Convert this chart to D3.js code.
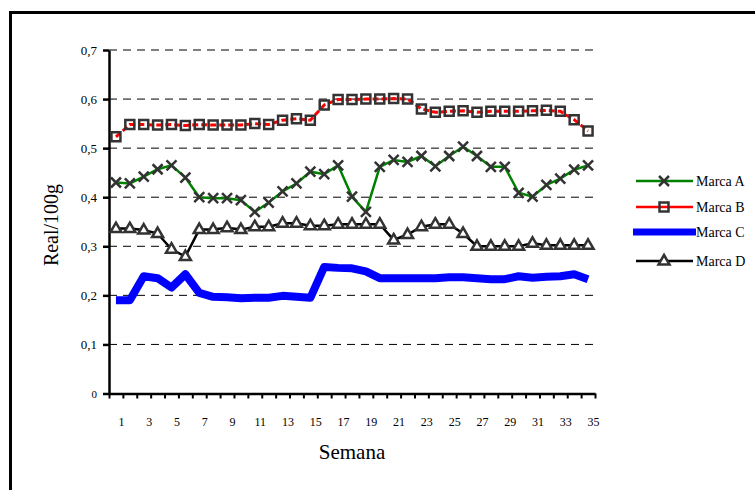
<!DOCTYPE html>
<html>
<head>
<meta charset="utf-8">
<script src="https://cdn.jsdelivr.net/npm/d3@7"></script>
<style>
  body { margin: 0; background: #fff; }
  text { font-family: "Liberation Serif", "Times New Roman", serif; fill: #000; }
</style>
</head>
<body>
<svg id="chart" width="755" height="490"></svg>
<script>
// weeks on the x axis
var semanas = [1,2,3,4,5,6,7,8,9,10,11,12,13,14,15,16,17,18,19,20,21,22,23,24,25,26,27,28,29,30,31,32,33,34,35];

var marcaA = [0.430,0.428,0.442,0.457,0.465,0.440,0.400,0.398,0.398,0.394,0.370,0.389,0.412,0.428,0.452,0.447,0.465,0.401,0.370,0.462,0.476,0.472,0.484,0.463,0.484,0.503,0.484,0.462,0.462,0.409,0.401,0.425,0.438,0.456,0.465];
var marcaB = [0.523,0.548,0.548,0.547,0.548,0.546,0.548,0.547,0.547,0.547,0.550,0.548,0.557,0.560,0.557,0.588,0.599,0.599,0.600,0.600,0.601,0.600,0.580,0.573,0.575,0.576,0.573,0.575,0.575,0.575,0.576,0.577,0.575,0.558,0.535];
var marcaC = [0.190,0.190,0.239,0.235,0.216,0.243,0.205,0.197,0.196,0.194,0.195,0.195,0.199,0.197,0.195,0.258,0.256,0.255,0.249,0.235,0.235,0.235,0.235,0.235,0.237,0.237,0.235,0.233,0.233,0.239,0.236,0.238,0.239,0.243,0.233];
var marcaD = [0.336,0.336,0.333,0.326,0.294,0.279,0.334,0.334,0.338,0.334,0.340,0.340,0.347,0.347,0.342,0.342,0.345,0.345,0.345,0.345,0.313,0.324,0.340,0.345,0.345,0.326,0.300,0.300,0.300,0.300,0.306,0.302,0.302,0.302,0.302];

var yTicks = [0,0.1,0.2,0.3,0.4,0.5,0.6,0.7];
var seriesNames = ["Marca A","Marca B","Marca C","Marca D"];

var svg = d3.select("#chart");

var plotLeft = 109, plotRight = 595, plotTop = 50, plotBottom = 393.5;

var x = d3.scaleBand().domain(semanas).range([plotLeft, plotRight]).padding(0);
var xEdge = d3.scaleLinear().domain([0, semanas.length]).range([plotLeft, plotRight]);
var y = d3.scaleLinear().domain([0, 0.7]).range([plotBottom, plotTop]);

// outer frame
svg.append("rect")
    .attr("x", 10.5).attr("y", 12.5)
    .attr("width", 800).attr("height", 520)
    .attr("fill", "none").attr("stroke", "#000").attr("stroke-width", 3);

// dashed gridlines
svg.append("g").selectAll("line")
    .data(yTicks.filter(function (d) { return d > 0; }))
    .enter().append("line")
    .attr("x1", plotLeft).attr("x2", plotRight)
    .attr("y1", function (d) { return y(d); })
    .attr("y2", function (d) { return y(d); })
    .attr("stroke", "#000").attr("stroke-width", 1)
    .attr("stroke-dasharray", "8,6");

// y axis
var yAxis = d3.axisLeft(y)
    .tickValues(yTicks)
    .tickSize(6)
    .tickSizeOuter(0)
    .tickPadding(6)
    .tickFormat(function (d) { return d === 0 ? "0" : d3.format(".1f")(d).replace(".", ","); });
var gy = svg.append("g").attr("transform", "translate(" + plotLeft + ",0)").call(yAxis);
gy.select(".domain").attr("stroke", "#000").attr("stroke-width", 2.5);
gy.selectAll(".tick line").attr("stroke", "#000").attr("stroke-width", 2.5);
gy.selectAll(".tick text")
    .style("font-family", "Liberation Serif, serif")
    .style("font-size", function (d) { return d === 0 ? "11px" : "13px"; })
    .attr("fill", "#000");

// x axis: tick marks on category borders
var xAxis = d3.axisBottom(xEdge)
    .tickValues(d3.range(0, semanas.length + 1))
    .tickSize(5)
    .tickSizeOuter(0)
    .tickFormat("");
var gx = svg.append("g").attr("transform", "translate(0," + plotBottom + ")").call(xAxis);
gx.select(".domain").attr("stroke", "#000").attr("stroke-width", 2.5);
gx.selectAll(".tick line").attr("stroke", "#000").attr("stroke-width", 2);

// category labels (odd weeks)
svg.append("g").selectAll("text")
    .data(semanas.filter(function (d) { return d % 2 === 1; }))
    .enter().append("text")
    .attr("x", function (d) { return x(d) + x.bandwidth() - 1.5; })
    .attr("y", 426)
    .attr("text-anchor", "middle")
    .style("font-size", "12px")
    .text(function (d) { return d; });

// axis titles
svg.append("text")
    .attr("x", 352).attr("y", 459)
    .attr("text-anchor", "middle")
    .style("font-size", "21px")
    .text("Semana");
svg.append("text")
    .attr("transform", "translate(58,225) rotate(-90)")
    .attr("text-anchor", "middle")
    .style("font-size", "20px")
    .text("Real/100g");

function cx(i) { return x(semanas[i]) + x.bandwidth() / 2; }

var line = d3.line()
    .x(function (d, i) { return cx(i); })
    .y(function (d) { return y(d); });

var markColor = "#333";
var crossPath = "M-5,-5L5,5M-5,5L5,-5";
var squarePath = "M-4.5,-4.5H4.5V4.5H-4.5Z";
var triPath = "M0,-6L5.5,3.5H-5.5Z";

// Marca B
svg.append("path").datum(marcaB)
    .attr("d", line).attr("fill", "none")
    .attr("stroke", "#ff0000").attr("stroke-width", 3)
    .attr("stroke-dasharray", "6,3");
svg.append("g").selectAll("path").data(marcaB).enter().append("path")
    .attr("transform", function (d, i) { return "translate(" + cx(i) + "," + y(d) + ")"; })
    .attr("d", squarePath)
    .attr("fill", "none").attr("stroke", markColor).attr("stroke-width", 2.5);

// Marca A
svg.append("path").datum(marcaA)
    .attr("d", line).attr("fill", "none")
    .attr("stroke", "#008000").attr("stroke-width", 2.5);
svg.append("g").selectAll("path").data(marcaA).enter().append("path")
    .attr("transform", function (d, i) { return "translate(" + cx(i) + "," + y(d) + ")"; })
    .attr("d", crossPath)
    .attr("fill", "none").attr("stroke", markColor).attr("stroke-width", 2.5);

// Marca D
svg.append("path").datum(marcaD)
    .attr("d", line).attr("fill", "none")
    .attr("stroke", "#000").attr("stroke-width", 2.5);
svg.append("g").selectAll("path").data(marcaD).enter().append("path")
    .attr("transform", function (d, i) { return "translate(" + cx(i) + "," + y(d) + ")"; })
    .attr("d", triPath)
    .attr("fill", "#fff").attr("stroke", markColor).attr("stroke-width", 2.5);

// Marca C
svg.append("path").datum(marcaC)
    .attr("d", line).attr("fill", "none")
    .attr("stroke", "#0000ff").attr("stroke-width", 8)
    .attr("stroke-linejoin", "round");

// legend
var legY = [181, 207, 232, 261];
var leg = svg.append("g");
seriesNames.forEach(function (name, i) {
    var g = leg.append("g").attr("transform", "translate(0," + legY[i] + ")");
    if (i === 2) {
        g.append("rect").attr("x", 633).attr("y", -3.5).attr("width", 63).attr("height", 7).attr("fill", "#0000ff");
    } else {
        g.append("line").attr("x1", 636).attr("x2", 693).attr("y1", 0).attr("y2", 0)
            .attr("stroke", i === 0 ? "#008000" : (i === 1 ? "#ff0000" : "#000"))
            .attr("stroke-width", 2.5);
        g.append("path").attr("transform", "translate(664,0)")
            .attr("d", i === 0 ? crossPath : (i === 1 ? squarePath : triPath))
            .attr("fill", i === 3 ? "#fff" : "none")
            .attr("stroke", markColor).attr("stroke-width", 2.5);
    }
    g.append("text").attr("x", 696).attr("y", 5)
        .style("font-size", "14px")
        .text(name);
});
</script>
</body>
</html>
